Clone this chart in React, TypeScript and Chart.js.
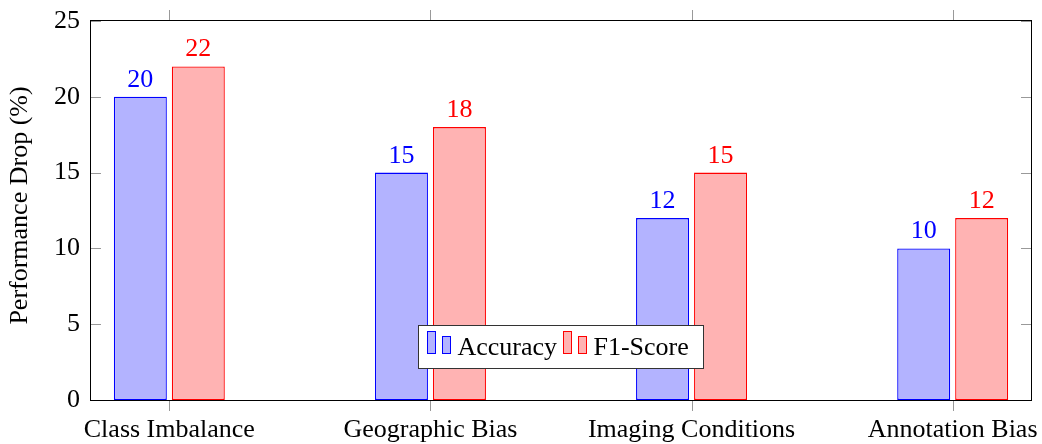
import React, { useEffect, useRef } from 'react';
import { Chart, registerables } from 'chart.js';

Chart.register(...registerables);

const categories = ['Class Imbalance', 'Geographic Bias', 'Imaging Conditions', 'Annotation Bias'];
const accuracy = [20, 15, 12, 10];
const f1Score = [22, 18, 15, 12];
const yTicks = [0, 5, 10, 15, 20, 25];
const seriesNames = ['Accuracy', 'F1-Score'];
const yTitle = 'Performance Drop (%)';

const FAMILY = '"Liberation Serif", "Times New Roman", serif';
const FONT = `26px ${FAMILY}`;
const BLUE = '#0000ff';
const RED = '#ff0000';
const BLUE_FILL = '#b3b3ff';
const RED_FILL = '#ffb3b3';

const decor = {
  id: 'decor',
  afterDraw(chart: any) {
    const ctx = chart.ctx as CanvasRenderingContext2D;
    const { left, right, top, bottom } = chart.chartArea;
    const xs = chart.scales.x;
    const ys = chart.scales.y;
    ctx.save();
    const line = (x1: number, y1: number, x2: number, y2: number) => {
      ctx.beginPath();
      ctx.moveTo(x1, y1);
      ctx.lineTo(x2, y2);
      ctx.stroke();
    };
    // tick marks
    ctx.strokeStyle = 'rgba(0,0,0,0.4)';
    ctx.lineWidth = 1;
    categories.forEach((_, i) => {
      const px = Math.round(xs.getPixelForValue(i)) + 0.5;
      line(px, bottom, px, bottom + 11);
      line(px, top - 11, px, top);
    });
    yTicks.forEach((v) => {
      const py = Math.round(ys.getPixelForValue(v)) + 0.5;
      line(left, py, left + 10, py);
      line(right - 10, py, right, py);
    });
    // frame
    ctx.strokeStyle = '#000';
    ctx.strokeRect(Math.round(left) - 0.5, Math.round(top) - 0.5, Math.round(right - left) + 1, Math.round(bottom - top) + 1);

    // value labels
    ctx.font = FONT;
    ctx.textAlign = 'center';
    ctx.textBaseline = 'alphabetic';
    chart.data.datasets.forEach((ds: any, di: number) => {
      const meta = chart.getDatasetMeta(di);
      ctx.fillStyle = di === 0 ? BLUE : RED;
      meta.data.forEach((el: any, i: number) => {
        ctx.fillText(String(ds.data[i].y), el.x, el.y - 10);
      });
    });

    // y title
    ctx.save();
    ctx.translate(27, (top + bottom) / 2 - 5);
    ctx.rotate(-Math.PI / 2);
    ctx.fillStyle = '#000';
    ctx.textAlign = 'center';
    ctx.textBaseline = 'alphabetic';
    ctx.fillText(yTitle, 0, 0);
    ctx.restore();

    // legend
    const cx = (left + right) / 2;
    const bx = Math.round(cx - 143) + 0.5;
    const by = Math.round(bottom - 75) + 0.5;
    ctx.fillStyle = '#fff';
    ctx.fillRect(bx, by, 285, 43);
    ctx.strokeStyle = '#333';
    ctx.strokeRect(bx, by, 285, 43);
    const drawEntry = (x0: number, fill: string, stroke: string, label: string) => {
      ctx.fillStyle = fill;
      ctx.strokeStyle = stroke;
      ctx.fillRect(x0, by + 6, 8, 22);
      ctx.strokeRect(x0, by + 6, 8, 22);
      ctx.fillRect(x0 + 15, by + 11, 8, 17);
      ctx.strokeRect(x0 + 15, by + 11, 8, 17);
      ctx.fillStyle = '#000';
      ctx.textAlign = 'left';
      ctx.fillText(label, x0 + 30, by + 29);
    };
    drawEntry(bx + 9, BLUE_FILL, BLUE, seriesNames[0]);
    drawEntry(bx + 145, RED_FILL, RED, seriesNames[1]);
    ctx.restore();
  },
};

export default function App() {
  const ref = useRef<HTMLCanvasElement | null>(null);
  useEffect(() => {
    document.body.style.margin = '0';
    const canvas = ref.current;
    if (!canvas) return;
    const chart = new Chart(canvas, {
      type: 'bar',
      data: {
        datasets: [
          {
            label: seriesNames[0],
            data: accuracy.map((y, i) => ({ x: i, y })),
            backgroundColor: BLUE_FILL,
            borderColor: BLUE,
            borderWidth: 1.3,
            borderSkipped: false,
          },
          {
            label: seriesNames[1],
            data: f1Score.map((y, i) => ({ x: i, y })),
            backgroundColor: RED_FILL,
            borderColor: RED,
            borderWidth: 1.3,
            borderSkipped: false,
          },
        ],
      },
      options: {
        animation: false,
        responsive: false,
        maintainAspectRatio: false,
        categoryPercentage: 0.444,
        barPercentage: 0.914,
        layout: { padding: { top: 21, right: 11, left: 0, bottom: 0 } },
        plugins: { legend: { display: false }, tooltip: { enabled: false } },
        scales: {
          x: {
            type: 'linear',
            min: -0.3,
            max: 3.3,
            offset: false,
            grid: { display: false, drawTicks: false },
            border: { display: false },
            afterBuildTicks: (s: any) => {
              s.ticks = categories.map((_, i) => ({ value: i }));
            },
            afterFit: (s: any) => {
              s.height = 44;
              s.paddingLeft = 0;
              s.paddingRight = 0;
            },
            ticks: {
              callback: (v: any) => categories[v] ?? '',
              font: { family: FAMILY, size: 26 },
              color: '#000',
              padding: 15,
              maxRotation: 0,
              autoSkip: false,
            },
          },
          y: {
            min: 0,
            max: 25,
            grid: { display: false, drawTicks: false },
            border: { display: false },
            afterFit: (s: any) => {
              s.width = 91;
              s.paddingTop = 0;
              s.paddingBottom = 0;
            },
            ticks: {
              stepSize: 5,
              padding: 11,
              font: { family: FAMILY, size: 26 },
              color: '#000',
            },
          },
        },
      } as any,
      plugins: [decor],
    });
    return () => chart.destroy();
  }, []);
  return (
    <div style={{ position: 'fixed', left: 0, top: 0, width: 1042, height: 444 }}>
      <canvas ref={ref} width={1042} height={444} style={{ width: 1042, height: 444 }} />
    </div>
  );
}
